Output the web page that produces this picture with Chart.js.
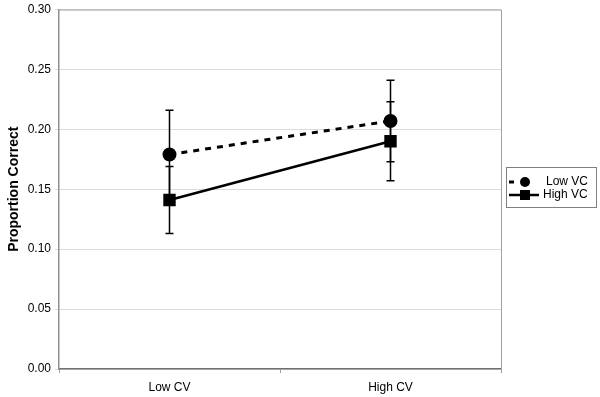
<!DOCTYPE html>
<html>
<head>
<meta charset="utf-8">
<script src="https://cdn.jsdelivr.net/npm/chart.js@4"></script>
<style>
  html, body { margin: 0; padding: 0; background: #fff; }
  #wrap { width: 600px; height: 397px; }
</style>
</head>
<body>
<div id="wrap"><canvas id="cvChart"></canvas></div>
<script>
// Data
const categories = ['Low CV', 'High CV'];
const lowVcMeans = [0.179, 0.207];
const lowVcErrors = [0.037, 0.034];
const highVcMeans = [0.141, 0.190];
const highVcErrors = [0.028, 0.033];
const seriesNames = ['Low VC', 'High VC'];

const FONT = "'Liberation Sans', Arial, sans-serif";

// Draws the error bars from the dataset's error array
const errorBarsPlugin = {
    id: 'errorBars',
    beforeDatasetsDraw(chart) {
        const ctx = chart.ctx;
        const yScale = chart.scales.y;
        chart.data.datasets.forEach((ds, di) => {
            const meta = chart.getDatasetMeta(di);
            meta.data.forEach((pt, i) => {
                const x = pt.x;
                const yTop = yScale.getPixelForValue(ds.data[i] + ds.errors[i]);
                const yBot = yScale.getPixelForValue(ds.data[i] - ds.errors[i]);
                ctx.save();
                ctx.strokeStyle = '#000';
                ctx.lineWidth = 1.5;
                ctx.beginPath();
                ctx.moveTo(x, yTop); ctx.lineTo(x, yBot);
                ctx.moveTo(x - 4, yTop); ctx.lineTo(x + 4, yTop);
                ctx.moveTo(x - 4, yBot); ctx.lineTo(x + 4, yBot);
                ctx.stroke();
                ctx.restore();
            });
        });
    }
};

// Plot frame + legend box
const framePlugin = {
    id: 'frame',
    beforeDatasetsDraw(chart) {
        const { ctx, chartArea: a } = chart;
        ctx.save();
        ctx.strokeStyle = '#a0a0a0';
        ctx.lineWidth = 1;
        ctx.beginPath();
        ctx.moveTo(a.left, a.top + 0.5); ctx.lineTo(a.right + 0.5, a.top + 0.5);
        ctx.lineTo(a.right + 0.5, a.bottom);
        ctx.stroke();
        ctx.restore();
    },
    afterDraw(chart) {
        const ctx = chart.ctx;
        ctx.save();
        ctx.strokeStyle = '#808080';
        ctx.lineWidth = 1;
        ctx.strokeRect(506.5, 167.5, 90, 40);
        ctx.font = '12px ' + FONT;
        ctx.fillStyle = '#000';
        ctx.textBaseline = 'middle';
        // Low VC
        ctx.strokeStyle = '#000';
        ctx.lineWidth = 3;
        ctx.beginPath(); ctx.moveTo(509, 182); ctx.lineTo(514, 182); ctx.stroke();
        ctx.beginPath(); ctx.arc(525, 182, 5, 0, Math.PI * 2); ctx.fill();
        ctx.fillText(seriesNames[0], 546, 182);
        // High VC
        ctx.lineWidth = 2.5;
        ctx.beginPath(); ctx.moveTo(509, 195); ctx.lineTo(539, 195); ctx.stroke();
        ctx.fillRect(520, 190, 10, 10);
        ctx.fillText(seriesNames[1], 543, 195);
        ctx.restore();
    }
};

new Chart(document.getElementById('cvChart').getContext('2d'), {
    type: 'line',
    data: {
        labels: categories,
        datasets: [
            {
                label: seriesNames[0],
                data: lowVcMeans,
                errors: lowVcErrors,
                borderColor: '#000',
                backgroundColor: '#000',
                borderWidth: 3,
                borderDash: [6, 6],
                pointStyle: 'circle',
                pointRadius: 5.5,
                pointBackgroundColor: '#000',
                tension: 0
            },
            {
                label: seriesNames[1],
                data: highVcMeans,
                errors: highVcErrors,
                borderColor: '#000',
                backgroundColor: '#000',
                borderWidth: 2.5,
                pointStyle: 'rect',
                pointRadius: 7,
                pointBackgroundColor: '#000',
                tension: 0
            }
        ]
    },
    options: {
        responsive: true,
        maintainAspectRatio: false,
        animation: false,
        layout: { padding: { top: 9, right: 99, bottom: 0, left: 6 } },
        plugins: {
            legend: { display: false },
            tooltip: { enabled: false }
        },
        scales: {
            x: {
                offset: true,
                grid: {
                    offset: true,
                    drawOnChartArea: false,
                    drawTicks: true,
                    tickLength: 4,
                    color: '#a0a0a0'
                },
                border: { color: '#707070', width: 1.5 },
                ticks: { color: '#000', font: { family: FONT, size: 12 }, padding: 7 },
                afterFit(scale) { scale.height = 28; }
            },
            y: {
                min: 0,
                max: 0.3,
                ticks: {
                    stepSize: 0.05,
                    color: '#000',
                    font: { family: FONT, size: 12 },
                    padding: 4,
                    callback: v => v.toFixed(2)
                },
                grid: { color: '#dcdcdc', tickLength: 4, drawTicks: true },
                border: { color: '#909090', width: 1.5 },
                title: {
                    display: true,
                    text: 'Proportion Correct',
                    color: '#000',
                    font: { family: FONT, size: 14, weight: 'bold' },
                    padding: 0
                },
                afterFit(scale) {
                    scale.width = 53;
                    scale.paddingTop = 0;
                    scale.paddingBottom = 0;
                }
            }
        }
    },
    plugins: [errorBarsPlugin, framePlugin]
});
</script>
</body>
</html>
